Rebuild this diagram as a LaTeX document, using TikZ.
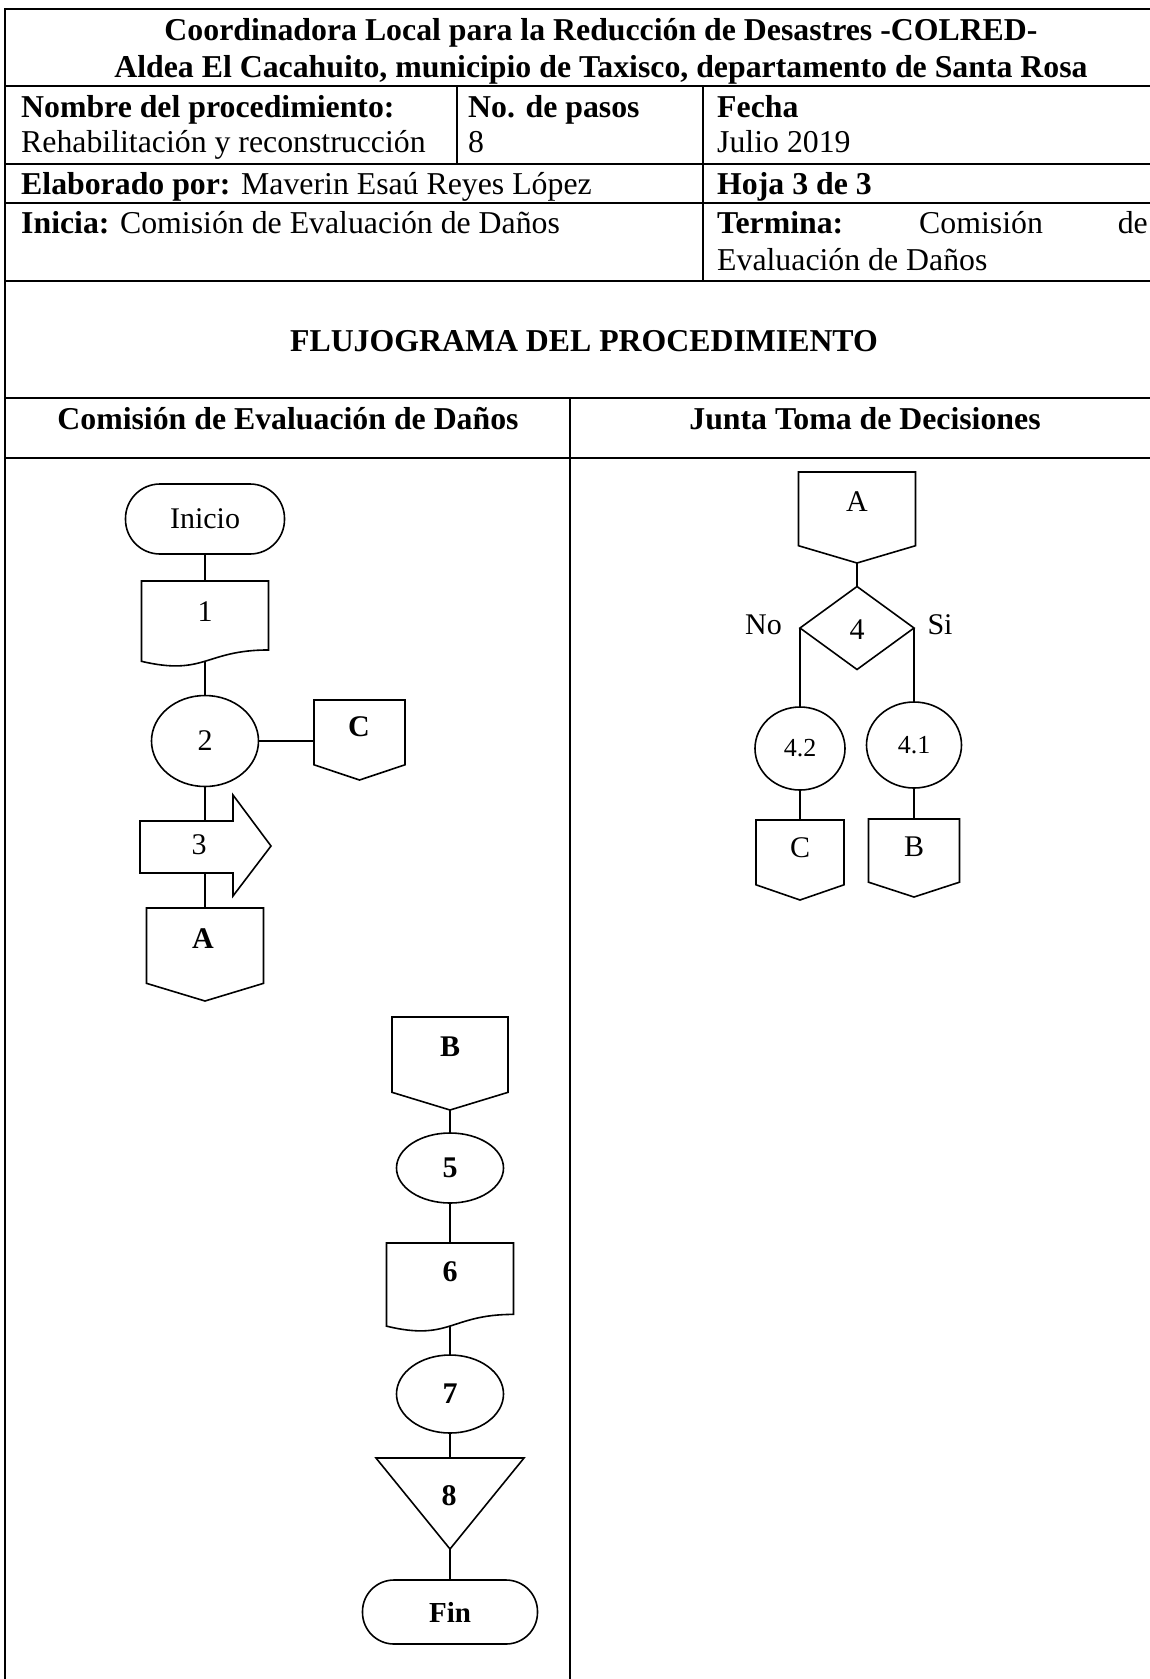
\documentclass[tikz,border=0pt]{standalone}
\usepackage{fontspec}
\setmainfont{Liberation Serif}
\usetikzlibrary{shapes.geometric,calc}
\tikzset{
  grid/.style={line width=1.8pt},
  shp/.style={line width=1.6pt, line join=miter},
  box/.style={rectangle, draw=none, inner sep=0pt, outer sep=0pt},
  hd/.style={inner sep=0pt, font=\fontsize{31.8}{36}\selectfont},
  lbl/.style={inner sep=0pt, font=\fontsize{30}{34}\selectfont},
  slbl/.style={inner sep=0pt, font=\fontsize{26}{30}\selectfont},
  blbl/.style={inner sep=0pt, font=\fontsize{30}{34}\selectfont\bfseries},
  ell/.style={ellipse, draw, line width=1.6pt, inner sep=0pt, outer sep=0pt},
  term/.style={rectangle, draw, line width=1.6pt, inner sep=0pt, outer sep=0pt}
}
\newcommand{\offpage}[1]{%
  \draw[shp] (#1.north west) -- (#1.north east) -- ($(#1.north east)!0.81!(#1.south east)$) -- (#1.south) -- ($(#1.north west)!0.81!(#1.south west)$) -- cycle;}
\newcommand{\docshape}[1]{%
  \draw[shp] (#1.north west) -- (#1.north east) -- ($(#1.north east)!0.802!(#1.south east)$) .. controls ($(#1.north)!0.802!(#1.south)$) and ($(#1.north)!1.1075!(#1.south)$) .. ($(#1.north west)!0.934!(#1.south west)$) -- cycle;}
\begin{document}
\begin{tikzpicture}[x=1pt,y=-1pt]
\useasboundingbox (0,0) rectangle (1150,1679);
\fill[white] (0,0) rectangle (1150,1679);
% ---- table grid ----
\draw[grid] (5,1679) -- (5,9) -- (1150,9);
\foreach \yy in {86,164,203,281,398,458} \draw[grid] (5,\yy) -- (1150,\yy);
\draw[grid] (457,86) -- (457,164);
\draw[grid] (703,86) -- (703,281);
\draw[grid] (570,398) -- (570,1679);
% ---- header texts ----
\node[hd, anchor=base, font=\fontsize{31.8}{36}\selectfont\bfseries] (t1) at (601,40) {Coordinadora Local para la Reducción de Desastres -COLRED-};
\node[hd, anchor=base, font=\fontsize{31.8}{36}\selectfont\bfseries] (t2) at (601,77) {Aldea El Cacahuito, municipio de Taxisco, departamento de Santa Rosa};
\node[hd, anchor=base west] (nom1) at (21,117) {\bfseries Nombre del procedimiento:};
\node[hd, anchor=base west] (nom2) at (21,152) {Rehabilitación y reconstrucción};
\node[hd, anchor=base west] (pas1) at (468,117) {\bfseries No. de pasos};
\node[hd, anchor=base west] (pas2) at (468,152) {8};
\node[hd, anchor=base west] (fec1) at (717,117) {\bfseries Fecha};
\node[hd, anchor=base west] (fec2) at (717,152) {Julio 2019};
\node[hd, anchor=base west] (elab) at (21,194) {\textbf{Elaborado por:} Maverin Esaú Reyes López};
\node[hd, anchor=base west] (hoja) at (717,194) {\bfseries Hoja 3 de 3};
\node[hd, anchor=base west] (ini) at (21,233) {\textbf{Inicia:} Comisión de Evaluación de Daños};
\node[hd, anchor=base west] (term1) at (717,233) {\bfseries Termina:};
\node[hd, anchor=base west] (term2) at (919,233) {Comisión};
\node[hd, anchor=base east] (term3) at (1148,233) {de};
\node[hd, anchor=base west] (term4) at (717,270) {Evaluación de Daños};
\node[hd, anchor=base] (flujo) at (584,351) {\bfseries FLUJOGRAMA DEL PROCEDIMIENTO};
\node[hd, anchor=base] (h1) at (288,429) {\bfseries Comisión de Evaluación de Daños};
\node[hd, anchor=base] (h2) at (865,429) {\bfseries Junta Toma de Decisiones};
% ---- left column ----
\node[term, minimum width=159pt, minimum height=70pt, rounded corners=34.5pt, font=\fontsize{30}{34}\selectfont] (inicio) at (205,519) {Inicio};
\node[box, minimum width=127pt, minimum height=86pt] (d1) at (205,624) {};
\docshape{d1}
\node[lbl] (d1t) at (205,612) {1};
\coordinate (d1b) at ($(d1.north)!0.933!(d1.south)$);
\node[ell, minimum width=107pt, minimum height=91pt, font=\fontsize{30}{34}\selectfont] (c2) at (205,741) {2};
\node[box, minimum width=91pt, minimum height=80pt] (offC) at (359.5,740) {};
\offpage{offC}
\node[blbl] (offCt) at (359,727) {C};
\node[box, minimum width=93pt, minimum height=52pt] (a3) at (186.5,847) {};
\draw[shp] (140,821) -- (233,821) -- (233,795) -- (271,846) -- (233,896) -- (233,873) -- (140,873) -- cycle;
\node[lbl] (a3t) at (199,845) {3};
\node[box, minimum width=117pt, minimum height=93pt] (offA) at (205,954.5) {};
\offpage{offA}
\node[blbl] (offAt) at (203,939) {A};
\draw[shp] (inicio.south) -- (d1.north);
\draw[shp] (d1b) -- (c2.north);
\draw[shp] (c2.east) -- (c2.east -| offC.west);
\draw[shp] (c2.south) -- (c2.south |- a3.north);
\draw[shp] (a3.south -| offA.north) -- (offA.north);
% ---- right column ----
\node[box, minimum width=117pt, minimum height=91pt] (offA2) at (857,517.5) {};
\offpage{offA2}
\node[lbl] (offA2t) at (857,502) {A};
\node[box, minimum width=114pt, minimum height=83pt] (d4) at (857,628) {};
\draw[shp] (d4.north) -- (d4.east) -- (d4.south) -- (d4.west) -- cycle;
\node[lbl] (d4t) at (857,630) {4};
\node[lbl] (no) at (763.5,625) {No};
\node[lbl] (si) at (940,625) {Si};
\node[ell, minimum width=90pt, minimum height=83pt, font=\fontsize{26}{30}\selectfont] (c42) at (800,748.5) {4.2};
\node[ell, minimum width=95pt, minimum height=86pt, font=\fontsize{26}{30}\selectfont] (c41) at (914,745) {4.1};
\node[box, minimum width=88pt, minimum height=80pt] (offC2) at (800,860) {};
\offpage{offC2}
\node[lbl] (offC2t) at (800,848) {C};
\node[box, minimum width=91pt, minimum height=78pt] (offB2) at (914,858) {};
\offpage{offB2}
\node[lbl] (offB2t) at (914,847) {B};
\draw[shp] (offA2.south) -- (d4.north);
\draw[shp] (d4.west) -- (c42.north);
\draw[shp] (d4.east) -- (c41.north);
\draw[shp] (c42.south) -- (offC2.north);
\draw[shp] (c41.south) -- (offB2.north);
% ---- bottom chain ----
\node[box, minimum width=116pt, minimum height=93pt] (offB) at (450,1063.5) {};
\offpage{offB}
\node[blbl] (offBt) at (450,1047) {B};
\node[ell, minimum width=107pt, minimum height=70pt, font=\fontsize{30}{34}\selectfont\bfseries] (c5) at (450,1168) {5};
\node[box, minimum width=127pt, minimum height=89pt] (d6) at (450,1287.5) {};
\docshape{d6}
\node[blbl] (d6t) at (450,1272) {6};
\coordinate (d6b) at ($(d6.north)!0.933!(d6.south)$);
\node[ell, minimum width=107pt, minimum height=78pt, font=\fontsize{30}{34}\selectfont\bfseries] (c7) at (450,1394) {7};
\node[box, minimum width=148pt, minimum height=91pt] (tri8) at (450,1503.5) {};
\draw[shp] (tri8.north west) -- (tri8.north east) -- (tri8.south) -- cycle;
\node[blbl] (tri8t) at (449,1496) {8};
\node[term, minimum width=175pt, minimum height=64pt, rounded corners=31.5pt, font=\fontsize{29}{33}\selectfont\bfseries] (fin) at (450,1612) {Fin};
\draw[shp] (offB.south) -- (c5.north);
\draw[shp] (c5.south) -- (d6.north);
\draw[shp] (d6b) -- (c7.north);
\draw[shp] (c7.south) -- (tri8.north);
\draw[shp] (tri8.south) -- (fin.north);
\end{tikzpicture}
\end{document}
